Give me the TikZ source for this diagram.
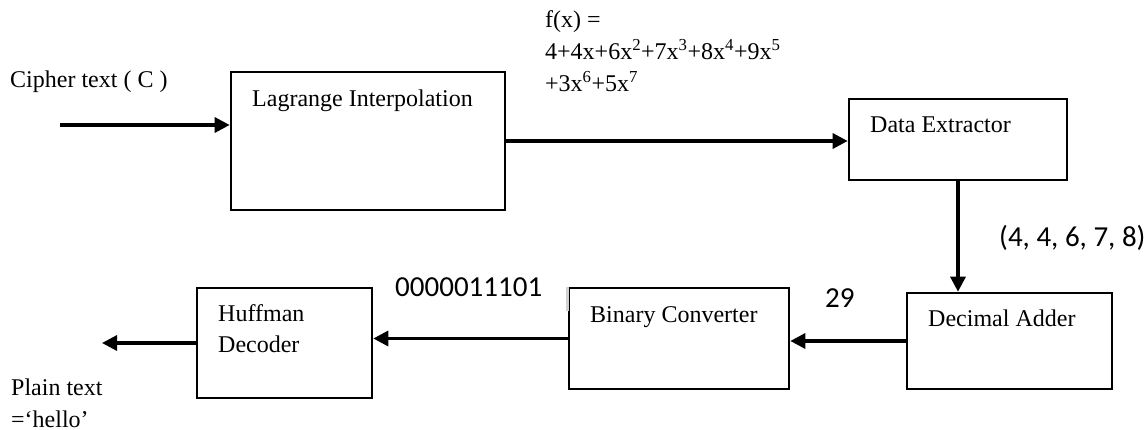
\documentclass[tikz,border=0pt]{standalone}
\usepackage{fontspec}
\setmainfont{Liberation Serif}
\newfontfamily\calib{Carlito}
\usetikzlibrary{arrows.meta}
\begin{document}
\begin{tikzpicture}[x=1pt,y=-1pt,
  box/.style={draw=black, line width=2.6pt, rectangle, inner sep=0pt},
  arr/.style={line width=3.2pt, -{Triangle[length=15pt,width=15pt]}},
  lbl/.style={anchor=base west, inner sep=0pt, font=\fontsize{24}{32}\selectfont},
  slbl/.style={anchor=base west, inner sep=0pt, font=\calib\fontsize{29}{34}\selectfont},
]
\useasboundingbox (0,0) rectangle (1148,430);
% boxes
\node[box, minimum width=274pt, minimum height=138pt] (lag) at (368,141) {};
\node[box, minimum width=218pt, minimum height=81pt] (dex) at (958,139.5) {};
\node[box, minimum width=205pt, minimum height=96pt] (dad) at (1009.5,341) {};
\node[box, minimum width=220pt, minimum height=101pt] (bin) at (679,338.5) {};
\node[box, minimum width=175pt, minimum height=110pt] (huf) at (284.5,343) {};
\draw[black!18, line width=2.8pt] (bin.north west) -- ++(0,24);
% box texts
\node[lbl] (lagT) at (252,107) {Lagrange Interpolation};
\node[lbl] (dexT) at (870,133) {Data Extractor};
\node[lbl] (dadT) at (928,326) {Decimal Adder};
\node[lbl] (binT) at (590,322) {Binary Converter};
\node[lbl] (hufT1) at (218,321) {Huffman};
\node[lbl] (hufT2) at (218,352) {Decoder};
% free labels
\node[lbl] (cip) at (10,88) {Cipher text ( C )};
\node[lbl] (fx1) at (545,28) {f(x) =};
\node[lbl] (fx2) at (545,60) {4+4x+6x\textsuperscript{2}+7x\textsuperscript{3}+8x\textsuperscript{4}+9x\textsuperscript{5}};
\node[lbl] (fx3) at (545,92) {+3x\textsuperscript{6}+5x\textsuperscript{7}};
\node[lbl] (pl1) at (11,395) {Plain text};
\node[lbl] (pl2) at (11,427) {=‘hello’};
\node[slbl] (vec) at (999,247) {(4, 4, 6, 7, 8)};
\node[slbl] (n29) at (825,308) {29};
\node[slbl] (bits) at (395,297) {0000011101};
% connectors
\coordinate (inS) at (60,125);
\coordinate (outE) at (102,343);
\draw[arr] (inS) -- (inS -| lag.west);
\draw[arr] (lag.east) -- (lag.east -| dex.west);
\draw[arr] (dex.south) -- (dex.south |- dad.north);
\draw[arr] (dad.west) -- (dad.west -| bin.east);
\draw[arr] (bin.west) -- (bin.west -| huf.east);
\draw[arr] (huf.west) -- (outE);
\end{tikzpicture}
\end{document}
